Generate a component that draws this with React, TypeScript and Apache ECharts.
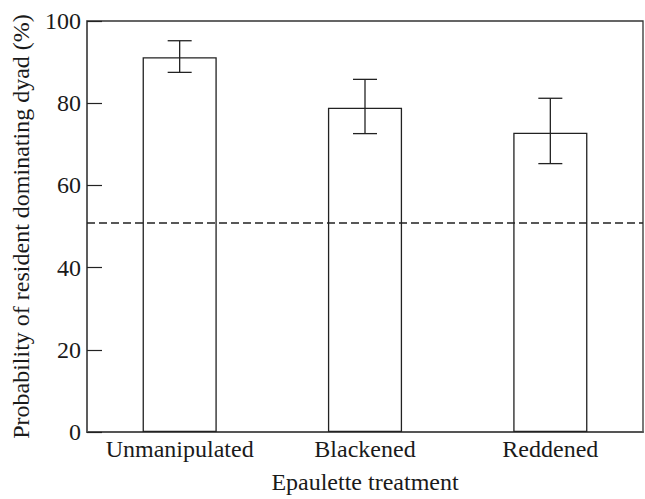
import React, { useEffect, useRef } from "react";
import * as echarts from "echarts";

const categories = ["Unmanipulated", "Blackened", "Reddened"];
const means = [91.2, 78.9, 72.8];
const upper = [95.2, 85.8, 81.2];
const lower = [87.5, 72.6, 65.3];
const referenceLevel = 51;
const yTicks = [0, 20, 40, 60, 80, 100];

const FONT = "'Liberation Serif', 'Times New Roman', serif";
const INK = "#1a1a1a";
const FS = 24;

export default function App() {
  const ref = useRef<HTMLDivElement>(null);
  useEffect(() => {
    if (!ref.current) return;
    const chart = echarts.init(ref.current, undefined, { renderer: "svg" });
    const errData = categories.map((_, i) => [i, lower[i], upper[i]]);
    chart.setOption({
      animation: false,
      backgroundColor: "#fff",
      grid: {
        left: 87,
        right: 2,
        top: 21,
        bottom: 59,
        show: true,
        borderColor: "#333",
        borderWidth: 1.3,
        backgroundColor: "transparent",
      },
      xAxis: {
        type: "category",
        data: categories,
        boundaryGap: true,
        name: "Epaulette treatment",
        nameLocation: "middle",
        nameGap: 38,
        nameTextStyle: { fontFamily: FONT, fontSize: FS, color: INK },
        axisLine: { show: true, lineStyle: { color: "#555", width: 2 } },
        axisTick: { show: false },
        axisLabel: {
          fontFamily: FONT,
          fontSize: FS,
          color: INK,
          margin: 5,
          interval: 0,
          hideOverlap: false,
        },
        splitLine: { show: false },
      },
      yAxis: {
        type: "value",
        min: 0,
        max: 100,
        interval: 20,
        name: "Probability of resident dominating dyad (%)",
        nameLocation: "middle",
        nameGap: 54,
        nameTextStyle: { fontFamily: FONT, fontSize: FS, color: INK },
        axisLine: { show: true, lineStyle: { color: "#555", width: 1.5 } },
        axisTick: { show: true, inside: true, length: 15, lineStyle: { color: "#222", width: 1.2 } },
        axisLabel: {
          fontFamily: FONT,
          fontSize: FS,
          color: INK,
          margin: 6,
          formatter: (v: number) => (yTicks.includes(v) ? String(v) : ""),
        },
        splitLine: { show: false },
      },
      series: [
        {
          type: "bar",
          data: means,
          barWidth: "40%",
          itemStyle: { color: "#fff", borderColor: "#222", borderWidth: 1.3 },
          markLine: {
            silent: true,
            symbol: "none",
            label: { show: false },
            lineStyle: { color: "#222", type: [8, 4], width: 1.5 },
            data: [{ yAxis: referenceLevel }],
          },
          z: 2,
        },
        {
          type: "custom",
          data: errData,
          z: 3,
          renderItem: (params: any, api: any) => {
            const x = api.value(0);
            const lo = api.coord([x, api.value(1)]);
            const hi = api.coord([x, api.value(2)]);
            const hw = 12;
            const style = { stroke: "#222", lineWidth: 1.3, fill: "none" };
            return {
              type: "group",
              children: [
                { type: "line", shape: { x1: lo[0], y1: lo[1], x2: hi[0], y2: hi[1] }, style },
                { type: "line", shape: { x1: hi[0] - hw, y1: hi[1], x2: hi[0] + hw, y2: hi[1] }, style },
                { type: "line", shape: { x1: lo[0] - hw, y1: lo[1], x2: lo[0] + hw, y2: lo[1] }, style },
              ],
            };
          },
        },
      ],
    });
    return () => chart.dispose();
  }, []);
  return (
    <div
      ref={ref}
      style={{ position: "fixed", left: 0, top: 0, width: 645, height: 499 }}
    />
  );
}
